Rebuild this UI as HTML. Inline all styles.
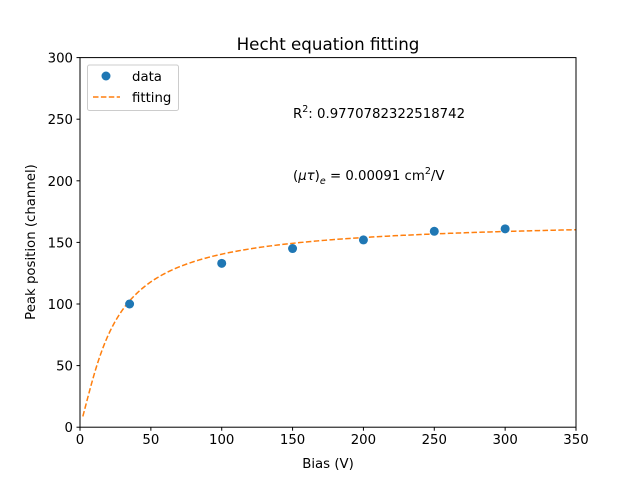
<!DOCTYPE html>
<html><head><meta charset="utf-8"><style>
html,body{margin:0;padding:0;background:#fff;}
svg{display:block;font-family:"DejaVu Sans","Liberation Sans",sans-serif;}
</style></head><body>
<svg id="chart" width="640" height="480" viewBox="0 0 640 480">
<rect x="0" y="0" width="640" height="480" fill="#fff"/>
<text x="328" y="50" font-size="16.7" text-anchor="middle">Hecht equation fitting</text>
<g id="ticks"></g>
<g id="plot"></g>
<rect x="80" y="57.6" width="496" height="369.6" fill="none" stroke="#000" stroke-width="1"/>
<text x="328" y="468" font-size="13.3" text-anchor="middle">Bias (V)</text>
<text transform="translate(35,242) rotate(-90)" font-size="13.3" text-anchor="middle">Peak position (channel)</text>
<text x="293" y="118" font-size="13.3">R<tspan font-size="9.5" dy="-6">2</tspan><tspan dy="6">: 0.9770782322518742</tspan></text>
<text x="293" y="180" font-size="13.3">(<tspan font-style="italic">μτ</tspan>)<tspan font-size="9.5" dy="4" font-style="italic">e</tspan><tspan dy="-4"> = 0.00091 cm</tspan><tspan font-size="9.5" dy="-6">2</tspan><tspan dy="6">/V</tspan></text>
<g>
<rect x="87.5" y="65" width="91" height="45.5" rx="2" fill="#fff" fill-opacity="0.8" stroke="#ccc"/>
<circle cx="106" cy="76" r="4.5" fill="#1f77b4"/>
<text x="132" y="81" font-size="13.3">data</text>
<line x1="93" y1="97" x2="120" y2="97" stroke="#ff7f0e" stroke-width="1.5" stroke-dasharray="5.5,2.4"/>
<text x="132" y="102" font-size="13.3">fitting</text>
</g>
</svg>
<script>
const biasValues = [35, 100, 150, 200, 250, 300];
const peakValues = [100, 133, 145, 152, 159, 161];
const xTicks = [0, 50, 100, 150, 200, 250, 300, 350];
const yTicks = [0, 50, 100, 150, 200, 250, 300];
const fitParams = [169.3, 0.0259]; // Q0, a (mu-tau scale)
const fitRange = [2, 350];

const NS = "http://www.w3.org/2000/svg";
const X0 = 80, X1 = 576, Y0 = 427.2, Y1 = 57.6;
const xs = v => X0 + (v - 0) / 350 * (X1 - X0);
const ys = v => Y0 - (v - 0) / 300 * (Y0 - Y1);
function mk(tag, attrs, parent) {
  const e = document.createElementNS(NS, tag);
  for (const k in attrs) e.setAttribute(k, attrs[k]);
  parent.appendChild(e); return e;
}
const tg = document.getElementById("ticks");
const pg = document.getElementById("plot");
xTicks.forEach(t => {
  const l = mk("line", {x1: xs(t), x2: xs(t), y1: Y0, y2: Y0 + 3.5, stroke: "#000"}, tg);
  
  
  const tx = mk("text", {x: xs(t), y: Y0 + 17, "font-size": 13.3, "text-anchor": "middle"}, tg);
  tx.textContent = t;
  
  
});
yTicks.forEach(t => {
  const l = mk("line", {x1: X0 - 3.5, x2: X0, y1: ys(t), y2: ys(t), stroke: "#000"}, tg);
  
  
  const tx = mk("text", {x: X0 - 7, y: ys(t) + 5, "font-size": 13.3, "text-anchor": "end"}, tg);
  tx.textContent = t;
  
  
});
// fitted curve from Hecht model parameters
const pts = [];
for (let i = 0; i <= 200; i++) {
  const V = fitRange[0] + (fitRange[1] - fitRange[0]) * i / 200;
  const x = fitParams[1] * V;
  const q = fitParams[0] * x * (1 - Math.exp(-1 / x));
  pts.push(xs(V).toFixed(2) + "," + ys(q).toFixed(2));
}
const fl = mk("polyline", {points: pts.join(" "), fill: "none", stroke: "#ff7f0e", "stroke-width": 1.5, "stroke-dasharray": "5.5,2.4"}, pg);


biasValues.forEach((v, i) => {
  const c = mk("circle", {cx: xs(v), cy: ys(peakValues[i]), r: 4.5, fill: "#1f77b4"}, pg);
  
  
});
</script>
</body></html>
